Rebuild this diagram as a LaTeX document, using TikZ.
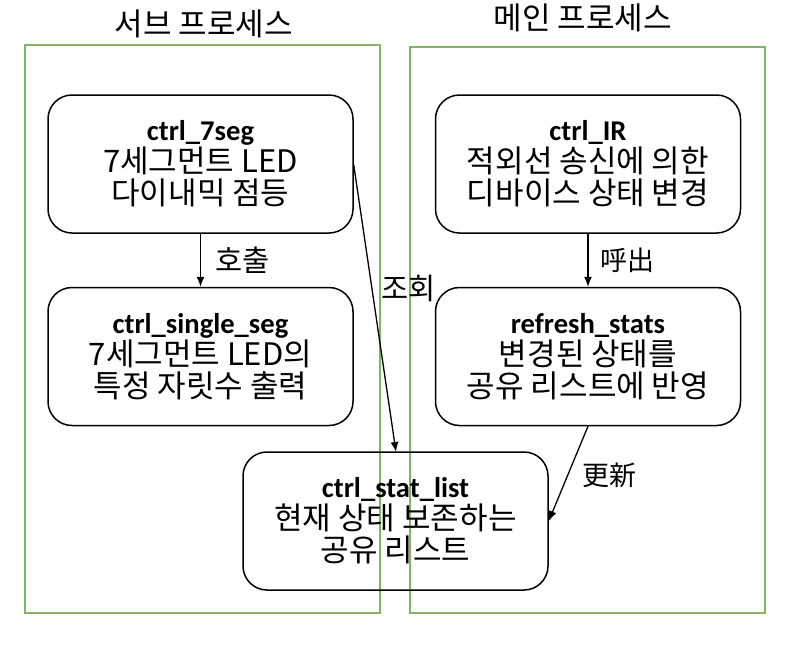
\documentclass[tikz,border=0pt]{standalone}
\usepackage{fontspec}
\setmainfont{Noto Sans CJK KR}
\newfontfamily\jp{Noto Sans CJK JP}
\newfontfamily\lat{Carlito}
\newcommand{\hd}[1]{{\lat\bfseries\fontsize{28.6}{32}\selectfont #1}}
\definecolor{grp}{HTML}{82B366}
\tikzset{
  grpbox/.style={draw=grp, line width=1.5pt},
  proc/.style={draw, line width=1.5pt, rounded corners=24pt, minimum width=305pt, minimum height=138pt, align=center, font=\fontsize{31}{32}\selectfont, inner sep=0pt},
  arr/.style={-{Latex[length=10pt,width=8pt]}, line width=1.3pt},
  lab/.style={font=\fontsize{29.5}{30}\selectfont, inner sep=0pt, anchor=west},
  jlab/.style={font=\jp\fontsize{27}{30}\selectfont, inner sep=0pt, anchor=west},
  ttl/.style={font=\fontsize{31}{32}\selectfont, inner sep=0pt}
}
\usetikzlibrary{arrows.meta}
\begin{document}
\begin{tikzpicture}[x=1pt,y=-1pt]
\useasboundingbox (0,0) rectangle (793,649);
\draw[grpbox] (25,45) rectangle (380,613);
\draw[grpbox] (410,47) rectangle (765,613);
\node[ttl] (t1) at (204,24) {서브 프로세스};
\node[ttl] (t2) at (583,18) {메인 프로세스};
\node[proc] (seg7) at (200.5,164) {\hd{ctrl\_7seg}\\7세그먼트 LED\\다이내믹 점등};
\node[proc] (single) at (200.5,356.5) {\hd{ctrl\_single\_seg}\\7세그먼트 LED의\\특정 자릿수 출력};
\node[proc] (ir) at (588,164) {\hd{ctrl\_IR}\\적외선 송신에 의한\\디바이스 상태 변경};
\node[proc] (refresh) at (588,356.5) {\hd{refresh\_stats}\\변경된 상태를\\공유 리스트에 반영};
\node[proc] (stat) at (395.5,521) {\hd{ctrl\_stat\_list}\\현재 상태 보존하는\\공유 리스트};
\coordinate (lhc) at (215,260);
\coordinate (jhc) at (600,260);
\coordinate (jhg) at (381,288);
\coordinate (gsx) at (582,475);
\draw[arr] (seg7) -- (single);
\node[lab] (l1) at (lhc) {호출};
\draw[arr] (ir) -- (refresh);
\node[jlab] (l2) at (jhc) {呼出};
\draw[arr] (seg7.east |- 0,165) -- (396,452);
\node[lab] (l3) at (jhg) {조회};
\draw[arr] (refresh.south) -- (stat.east);
\node[jlab] (l4) at (gsx) {更新};
\end{tikzpicture}
\end{document}
